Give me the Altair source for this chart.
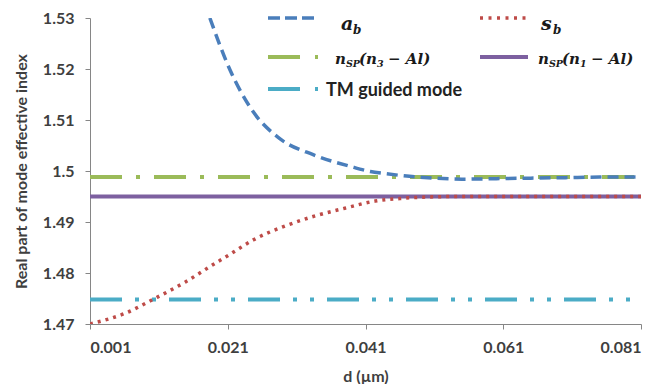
import altair as alt
import pandas as pd

# ---- data ----
d_ab = [0.0184, 0.0213, 0.0247, 0.0286, 0.0334, 0.0388, 0.0417, 0.0438, 0.047, 0.051, 0.055, 0.060, 0.065, 0.070, 0.075, 0.081]
ab = [1.5300, 1.5199, 1.5116, 1.5063, 1.5032, 1.5009, 1.4999, 1.4995, 1.4990, 1.4986, 1.4984, 1.4985, 1.4986, 1.4987, 1.4988, 1.4988]

d_sb = [0.001, 0.0061, 0.0104, 0.0148, 0.0187, 0.021, 0.025, 0.0293, 0.0337, 0.038, 0.0424, 0.046, 0.050, 0.055, 0.060, 0.070, 0.081]
sb = [1.4700, 1.4721, 1.4750, 1.4782, 1.4815, 1.4834, 1.4867, 1.4892, 1.4912, 1.4927, 1.4941, 1.4946, 1.4949, 1.4950, 1.4950, 1.4950, 1.4950]

x_ends = [0.001, 0.081]
n3_al = 1.4988
n1_al = 1.4950
tm_mode = 1.4748

x_ticks = [0.001, 0.021, 0.041, 0.061, 0.081]
y_ticks = [1.47, 1.48, 1.49, 1.50, 1.51, 1.52, 1.53]

BLUE = "#4A7EBB"
RED = "#BE4B48"
GREEN = "#9BBB59"
PURPLE = "#7D60A0"
AQUA = "#4BACC6"
TXT = "#3F3F3F"

xs = alt.Scale(domain=[0.001, 0.081], nice=False, zero=False)
ys = alt.Scale(domain=[1.47, 1.53], nice=False, zero=False)

X = alt.X("d:Q", scale=xs, axis=alt.Axis(values=x_ticks, format=".3f", title="d (µm)"))
Y = alt.Y("n:Q", scale=ys, axis=alt.Axis(values=y_ticks, format=".2~f", title="Real part of mode effective index"))


def hline(v):
    return pd.DataFrame({"d": x_ends, "n": [v, v]})


tm = alt.Chart(hline(tm_mode)).mark_line(color=AQUA, strokeWidth=4, strokeDash=[32, 13, 4, 13, 4, 13]).encode(x=X, y=Y)
p1 = alt.Chart(hline(n1_al)).mark_line(color=PURPLE, strokeWidth=4).encode(x=X, y=Y)
g3 = alt.Chart(hline(n3_al)).mark_line(color=GREEN, strokeWidth=4, strokeDash=[32, 14, 4, 14]).encode(x=X, y=Y)
sbl = alt.Chart(pd.DataFrame({"d": d_sb, "n": sb})).mark_line(
    color=RED, strokeWidth=3.5, strokeDash=[3, 5], interpolate="monotone", clip=True).encode(x=X, y=Y)
abl = alt.Chart(pd.DataFrame({"d": d_ab, "n": ab})).mark_line(
    color=BLUE, strokeWidth=3.5, strokeDash=[11, 6], interpolate="monotone", clip=True).encode(x=X, y=Y)

one = pd.DataFrame({"k": [0]})
MATH = "DejaVu Serif"


def key(x1, x2, y, color, dash=None, w=3.5):
    kw = dict(color=color, strokeWidth=w)
    if dash:
        kw["strokeDash"] = dash
    return alt.Chart(one).mark_rule(**kw).encode(x=alt.value(x1), x2=alt.value(x2), y=alt.value(y))


def txt(x, y, s, size, font=MATH, italic=True, color="#1a1a1a"):
    kw = dict(align="left", baseline="alphabetic", font=font, fontSize=size, fontWeight="bold", color=color, text=s)
    if italic:
        kw["fontStyle"] = "italic"
    return alt.Chart(one).mark_text(**kw).encode(x=alt.value(x), y=alt.value(y))


ox, oy = 90, 18  # plot origin on the page
legend = [
    key(268 - ox, 314 - ox, 18 - oy, BLUE, [12, 5]),
    txt(341 - ox, 30 - oy, "a", 19),
    txt(353 - ox, 34 - oy, "b", 12),
    key(480 - ox, 528 - ox, 18 - oy, RED, [3, 5.5]),
    txt(541 - ox, 30 - oy, "s", 19),
    txt(553 - ox, 34 - oy, "b", 12),
    key(268 - ox, 321 - ox, 57 - oy, GREEN, [32, 15, 3, 20], 4),
    txt(335 - ox, 64 - oy, "n", 15),
    txt(346 - ox, 67 - oy, "SP", 9.5),
    txt(359 - ox, 64 - oy, "(n", 15),
    txt(377 - ox, 67 - oy, "3", 9.5),
    txt(388 - ox, 64 - oy, "− Al)", 15),
    key(480 - ox, 528 - ox, 57 - oy, PURPLE, None, 4),
    txt(538 - ox, 64 - oy, "n", 15),
    txt(549 - ox, 67 - oy, "SP", 9.5),
    txt(562 - ox, 64 - oy, "(n", 15),
    txt(580 - ox, 67 - oy, "1", 9.5),
    txt(591 - ox, 64 - oy, "− Al)", 15),
    key(268 - ox, 321 - ox, 89 - oy, AQUA, [32, 15, 3, 20], 4),
    txt(326 - ox, 96 - oy, "TM guided mode", 18, font="Lato", italic=False, color="#222222"),
]

chart = alt.layer(tm, p1, g3, sbl, abl, *legend).properties(
    width=551, height=306,
    autosize=alt.AutoSizeParams(type="none"),
    padding={"left": 82, "top": 10, "right": 10, "bottom": 60},
).configure_view(stroke=None).configure_axis(
    grid=False,
    domainColor="#868686", tickColor="#868686", tickSize=5,
    labelFont="Lato", labelFontWeight="bold", labelFontSize=16, labelColor=TXT,
    titleFont="Lato", titleFontWeight="bold", titleFontSize=16, titleColor=TXT,
).configure_axisX(labelPadding=10, titlePadding=13).configure_axisY(labelPadding=11, titlePadding=13)

chart.save("out.html", embed_options={"renderer": "svg", "actions": False})
